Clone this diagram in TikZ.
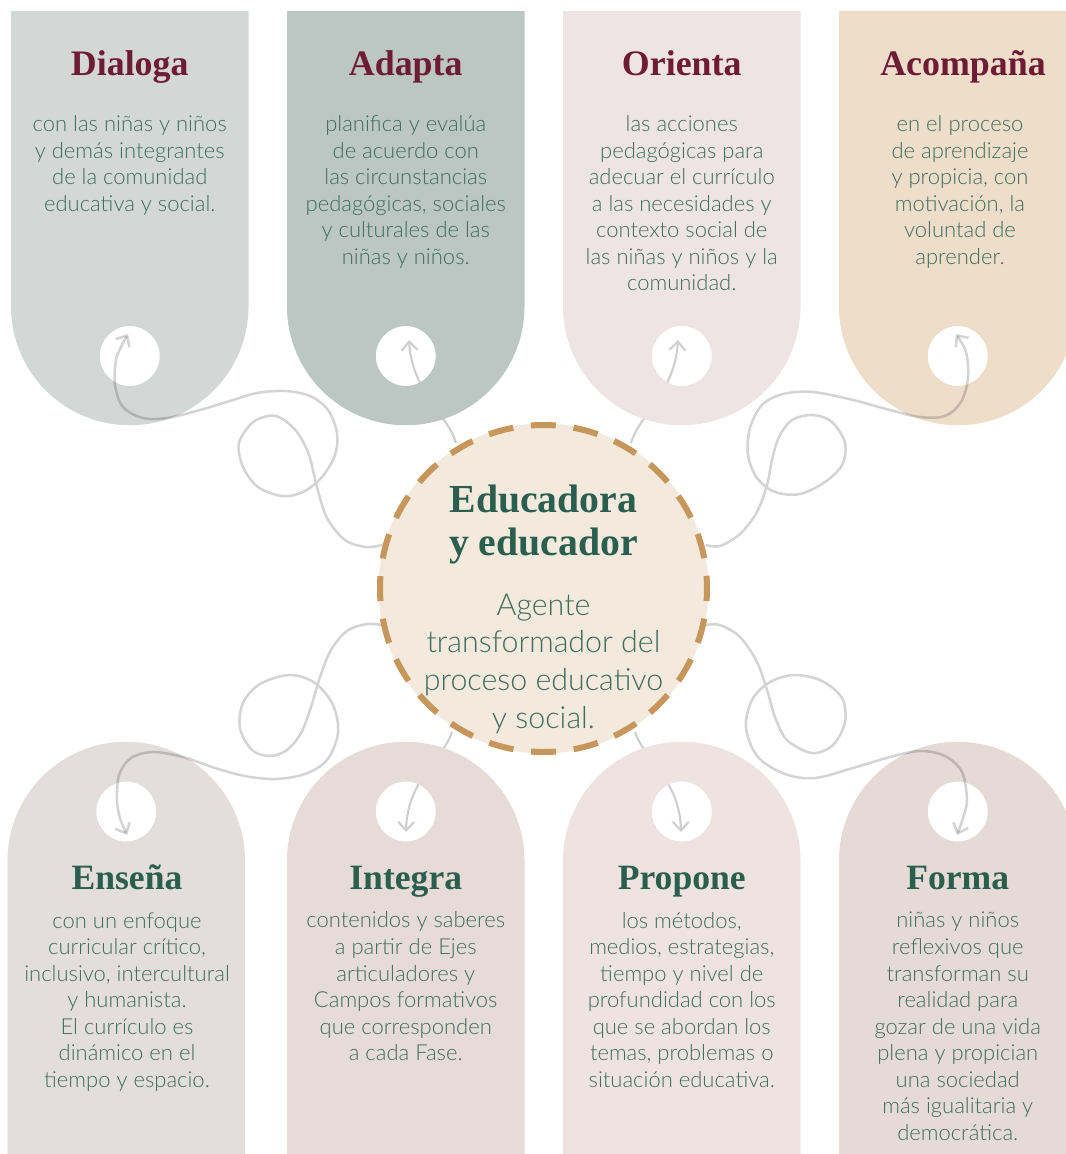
\documentclass[tikz,border=0pt]{standalone}
\usepackage{fontspec}
\setmainfont{Lato}
\newfontfamily\bodyfont{Lato Light}
\newfontfamily\titlefont{Liberation Serif}
\usetikzlibrary{arrows.meta}
\definecolor{cardA}{HTML}{D3D8D6}
\definecolor{cardB}{HTML}{BCC6C2}
\definecolor{cardC}{HTML}{EEE4E5}
\definecolor{cardD}{HTML}{EDDDC9}
\definecolor{cardE}{HTML}{E3DDDB}
\definecolor{cardF}{HTML}{E6DBD7}
\definecolor{cardG}{HTML}{EEE3E1}
\definecolor{cardH}{HTML}{E5DAD6}
\definecolor{centerfill}{HTML}{F3E9DD}
\definecolor{dashcol}{HTML}{C6965A}
\definecolor{titlered}{HTML}{6E1B36}
\definecolor{titlegreen}{HTML}{2A5E4E}
\definecolor{bodygreen}{HTML}{3F6D5E}
\definecolor{linkgray}{HTML}{CFCFCF}
\begin{document}
\begin{tikzpicture}[x=0.75pt,y=-0.75pt,
  redtitle/.style={font=\titlefont\bfseries\fontsize{26.9}{30}\selectfont, text=titlered, anchor=base, inner sep=0pt},
  greentitle/.style={font=\titlefont\bfseries\fontsize{26.7}{30}\selectfont, text=titlegreen, anchor=base, inner sep=0pt},
  body/.style={font=\bodyfont\fontsize{16.5}{19.9}\selectfont, text=bodygreen, align=center, anchor=base, inner sep=0pt},
  ctitle/.style={font=\titlefont\bfseries\fontsize{29.8}{32.25}\selectfont, text=titlegreen, align=center, anchor=base, inner sep=0pt},
  cbody/.style={font=\bodyfont\fontsize{22.8}{28.3}\selectfont, text=bodygreen, align=center, anchor=base, inner sep=0pt},
  link/.style={draw=linkgray, line width=1.6pt, -{Straight Barb[length=6.5pt,width=12pt]}},
  loopy/.style={draw=black, draw opacity=0.17, line width=1.9pt, line cap=round, -{Straight Barb[length=6.5pt,width=12pt]}},
  holecard/.style={even odd rule}
]
\useasboundingbox (0,0) rectangle (1066,1154);
\clip (0,0) rectangle (1066,1154);

% named coordinates
\coordinate (ctr) at (543.5,588.5);
\coordinate (s1) at (456,443);
\coordinate (e1) at (409,340);
\coordinate (s2) at (631,443);
\coordinate (e2) at (678,340);
\coordinate (s3) at (452,732);
\coordinate (e3) at (406,832);
\coordinate (s4) at (635,732);
\coordinate (e4) at (681,832);
\coordinate (sA) at (382,545);
\coordinate (eA) at (128,334);
\coordinate (sB) at (706,545);
\coordinate (eB) at (956,334);
\coordinate (sC) at (381,625);
\coordinate (eC) at (127,835);
\coordinate (sD) at (706,625);
\coordinate (eD) at (957,835);

% straight connectors beneath the cards
\draw[link] (s1) .. controls (448,415) and (412,392) .. (e1);
\draw[link] (s2) .. controls (639,415) and (675,392) .. (e2);
\draw[link] (s3) .. controls (444,758) and (407,780) .. (e3);
\draw[link] (s4) .. controls (643,758) and (680,780) .. (e4);

% top cards
\fill[cardA, holecard] (11,11) -- (248.5,11) -- (248.5,306.5) arc[start angle=0,end angle=180,radius=118.75] -- cycle (129.75,356) circle[radius=30];
\fill[cardB, holecard] (287,11) -- (524.5,11) -- (524.5,306.5) arc[start angle=0,end angle=180,radius=118.75] -- cycle (405.75,356) circle[radius=30];
\fill[cardC, holecard] (563,11) -- (800.5,11) -- (800.5,306.5) arc[start angle=0,end angle=180,radius=118.75] -- cycle (681.75,356) circle[radius=30];
\fill[cardD, holecard] (839,11) -- (1076.5,11) -- (1076.5,306.5) arc[start angle=0,end angle=180,radius=118.75] -- cycle (957.75,356) circle[radius=30];

% bottom cards
\fill[cardE, holecard] (7.5,1160) -- (7.5,860.5) arc[start angle=180,end angle=360,radius=118.75] -- (245,1160) -- cycle (126.25,811.5) circle[radius=30];
\fill[cardF, holecard] (287,1160) -- (287,860.5) arc[start angle=180,end angle=360,radius=118.75] -- (524.5,1160) -- cycle (405.75,811.5) circle[radius=30];
\fill[cardG, holecard] (563,1160) -- (563,860.5) arc[start angle=180,end angle=360,radius=118.75] -- (800.5,1160) -- cycle (681.75,811.5) circle[radius=30];
\fill[cardH, holecard] (839,1160) -- (839,860.5) arc[start angle=180,end angle=360,radius=118.75] -- (1076.5,1160) -- cycle (957.75,811.5) circle[radius=30];

% loopy connectors
\draw[loopy] plot[smooth, tension=0.55] coordinates {(sA) (366,547) (345,540) (327,518) (317,487) (309,455) (297,432) (281,418) (268,416) (252,423) (239,443) (243,467) (258,487) (282,496) (303,492) (322,477) (335,455) (337,433) (328,410) (310,396) (285,391) (257,393) (233,400) (200,410) (167,418) (143,418) (123,407) (115,385) (116,360) (122,345) (eA)};
\draw[loopy] plot[smooth, tension=0.55] coordinates {(sB) (720,546) (740,534) (757,512) (767,485) (772,460) (779,437) (792,420) (813,415) (832,422) (845,443) (842,465) (825,482) (800,494) (775,492) (757,478) (748,455) (750,428) (762,405) (783,394) (813,392) (853,400) (890,410) (920,417) (945,416) (961,402) (968,378) (966,352) (eB)};
\draw[loopy] plot[smooth, tension=0.55] coordinates {(sC) (367,624) (347,631) (331,650) (320,677) (311,707) (301,733) (287,750) (270,756) (252,750) (240,728) (243,703) (260,684) (290,675) (315,683) (333,705) (338,733) (327,760) (305,774) (275,779) (245,776) (215,768) (183,757) (153,752) (131,758) (119,775) (117,800) (120,818) (eC)};
\draw[loopy] plot[smooth, tension=0.55] coordinates {(sD) (720,625) (740,637) (757,662) (767,690) (775,717) (787,740) (812,753) (833,745) (845,722) (842,698) (822,681) (795,675) (770,682) (752,700) (746,728) (758,757) (785,774) (815,778) (853,768) (890,757) (920,751) (945,756) (962,772) (967,800) (963,818) (eD)};

% center circle
\fill[centerfill] (ctr) circle[radius=165];
\draw[dashcol, line width=4.5pt, dash pattern=on 18.75pt off 13.35pt, dash phase=9.375pt] (ctr) circle[radius=163.5];
\node[ctitle] (ct) at (543.5,555) {Educadora\\y educador};
\node[cbody] (cb) at (543.5,728.2) {Agente\\transformador del\\proceso educativo\\y social.};

% top texts
\node[redtitle] (t1) at (129.75,75) {Dialoga};
\node[body] (b1) at (129.75,211.3) {con las niñas y niños\\y demás integrantes\\de la comunidad\\educativa y social.};
\node[redtitle] (t2) at (405.75,75) {Adapta};
\node[body] (b2) at (405.75,264.35) {planifica y evalúa\\de acuerdo con\\las circunstancias\\pedagógicas, sociales\\y culturales de las\\niñas y niños.};
\node[redtitle] (t3) at (681.75,75) {Orienta};
\node[body] (b3) at (681.75,290.9) {las acciones\\pedagógicas para\\adecuar el currículo\\a las necesidades y\\contexto social de\\las niñas y niños y la\\comunidad.};
\node[redtitle] (t4) at (963,75) {Acompaña};
\node[body] (b4) at (960,264.35) {en el proceso\\de aprendizaje\\y propicia, con\\motivación, la\\voluntad de\\aprender.};

% bottom texts
\node[greentitle] (t5) at (127,889) {Enseña};
\node[body] (b5) at (127,1087.2) {con un enfoque\\curricular crítico,\\inclusivo, intercultural\\y humanista.\\El currículo es\\dinámico en el\\tiempo y espacio.};
\node[greentitle] (t6) at (405.75,889) {Integra};
\node[body] (b6) at (405.75,1060.65) {contenidos y saberes\\a partir de Ejes\\articuladores y\\Campos formativos\\que corresponden\\a cada Fase.};
\node[greentitle] (t7) at (681.75,889) {Propone};
\node[body] (b7) at (681.75,1087.2) {los métodos,\\medios, estrategias,\\tiempo y nivel de\\profundidad con los\\que se abordan los\\temas, problemas o\\situación educativa.};
\node[greentitle] (t8) at (957.75,889) {Forma};
\node[body] (b8) at (957.75,1140.2) {niñas y niños\\reflexivos que\\transforman su\\realidad para\\gozar de una vida\\plena y propician\\una sociedad\\más igualitaria y\\democrática.};
\end{tikzpicture}
\end{document}
